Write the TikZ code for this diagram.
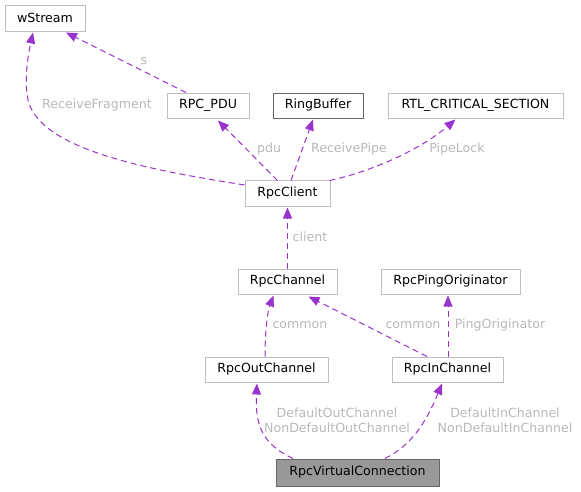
\documentclass[tikz,border=0pt]{standalone}
\usepackage{fontspec}
\setmainfont{DejaVu Sans}
\usetikzlibrary{arrows.meta}
\definecolor{edgec}{HTML}{9A32CD}
\definecolor{boxc}{HTML}{BFBFBF}
\definecolor{labc}{HTML}{B8B8B8}
\begin{document}
\begin{tikzpicture}[x=1pt,y=-1pt,
  every node/.style={font=\fontsize{12.6}{15}\selectfont},
  cls/.style={draw=boxc, line width=1pt, fill=white, rectangle, inner sep=0pt, text=black},
  darkcls/.style={cls, draw=black!60},
  maincls/.style={cls, draw=black!60, fill=black!40},
  dep/.style={draw=edgec, line width=1pt, dash pattern=on 6pt off 4pt, -{Triangle[length=11pt,width=9pt,fill=edgec]}},
  lab/.style={text=labc, inner sep=0pt}]
\useasboundingbox (0,0) rectangle (581,491);
\node[cls, minimum width=80pt, minimum height=26pt] (wstream) at (45,18) {wStream};
\node[cls, minimum width=82pt, minimum height=25pt] (pdu) at (208,105.5) {RPC\_PDU};
\node[darkcls, minimum width=90pt, minimum height=25pt] (ring) at (318,105.5) {RingBuffer};
\node[cls, minimum width=175pt, minimum height=25pt] (rtl) at (475.5,105.5) {RTL\_CRITICAL\_SECTION};
\node[cls, minimum width=85pt, minimum height=26pt] (client) at (287.5,193) {RpcClient};
\node[cls, minimum width=99pt, minimum height=25pt] (chan) at (287.5,281.5) {RpcChannel};
\node[cls, minimum width=139pt, minimum height=25pt] (ping) at (450.5,281.5) {RpcPingOriginator};
\node[cls, minimum width=123pt, minimum height=25pt] (outc) at (266.5,369.5) {RpcOutChannel};
\node[cls, minimum width=111pt, minimum height=25pt] (inc) at (447.5,369.5) {RpcInChannel};
\node[maincls, minimum width=163pt, minimum height=27pt] (rvc) at (357.5,472.5) {RpcVirtualConnection};

% edges
\draw[dep] ([xshift=-22pt]pdu.north) -- ([xshift=21pt,yshift=-1pt]wstream.south);
\draw[dep] ([yshift=8pt]client.west) .. controls (150,170) and (40,150) .. (28,100) .. controls (24,80) and (28,55) .. ([xshift=-12pt,yshift=-1pt]wstream.south);
\draw[dep] ([xshift=-10pt,yshift=-1pt]client.north) -- ([xshift=10pt,yshift=-2pt]pdu.south);
\draw[dep] ([xshift=3.5pt,yshift=-1pt]client.north) -- ([xshift=-5pt,yshift=-1pt]ring.south);
\draw[dep] ([xshift=42pt,yshift=-1pt]client.north) .. controls (370,172) and (420,150) .. ([xshift=-20pt,yshift=-1pt]rtl.south);
\draw[dep] (chan.north) -- ([yshift=-1pt]client.south);
\draw[dep] ([xshift=-1.5pt]outc.north) .. controls (265,330) and (268,310) .. ([xshift=-14pt,yshift=-1pt]chan.south);
\draw[dep] ([xshift=-20.5pt]inc.north) -- ([xshift=21pt,yshift=-2pt]chan.south);
\draw[dep] ([xshift=0.5pt]inc.north) -- ([xshift=-2.5pt,yshift=-1pt]ping.south);
\draw[dep] ([xshift=-64.5pt]rvc.north) .. controls (262,444) and (255,425) .. ([xshift=-9.5pt,yshift=-1pt]outc.south);
\draw[dep] ([xshift=27.5pt]rvc.north) .. controls (410,446) and (425,425) .. ([xshift=-5.5pt,yshift=-1pt]inc.south);

% labels
\node[lab] (ls) at (144,61) {s};
\node[lab] (lrf) at (97,105) {ReceiveFragment};
\node[lab] (lpdu) at (269,149) {pdu};
\node[lab] (lrp) at (349,149) {ReceivePipe};
\node[lab] (lpl) at (457,149) {PipeLock};
\node[lab] (lcl) at (310,237) {client};
\node[lab] (lc1) at (300,325) {common};
\node[lab] (lc2) at (413,325) {common};
\node[lab] (lpo) at (500,325) {PingOriginator};
\node[lab, align=center] (ldo) at (337,420) {DefaultOutChannel\\NonDefaultOutChannel};
\node[lab, align=center] (ldi) at (505,420) {DefaultInChannel\\NonDefaultInChannel};
\end{tikzpicture}
\end{document}
